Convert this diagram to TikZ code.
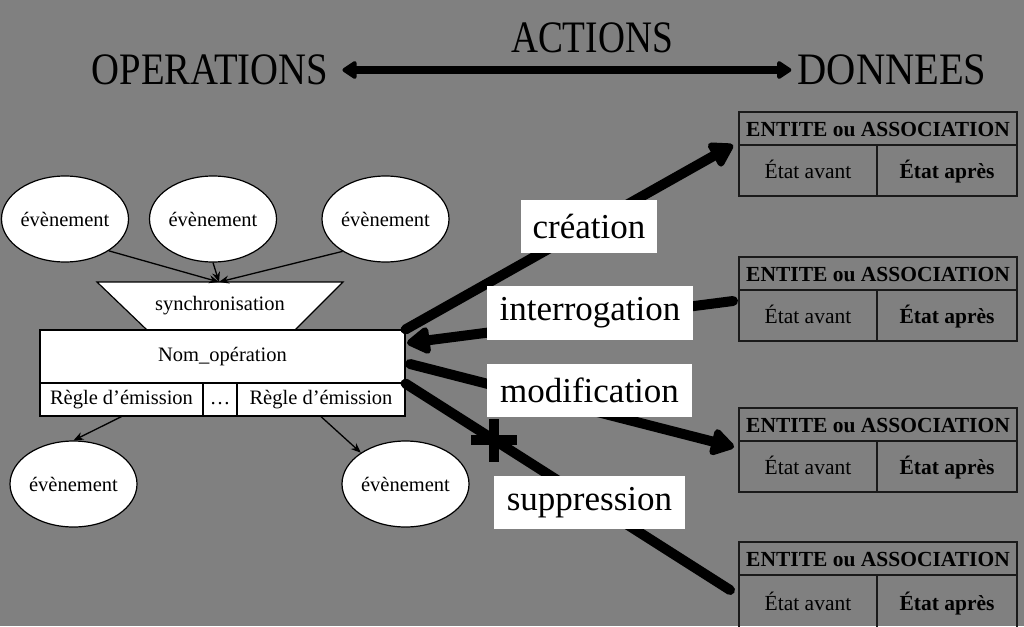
\documentclass[tikz,border=0pt]{standalone}
\usepackage{fontspec}
\setmainfont{Liberation Serif}
\usetikzlibrary{arrows.meta,shapes.geometric}
\definecolor{bgc}{RGB}{128,128,128}
\newcommand\condense[2]{\scalebox{#1}[1]{#2}}
\begin{document}
\begin{tikzpicture}[x=1pt,y=-1pt,
  ev/.style={ellipse,draw,fill=white,line width=1.2pt,minimum width=127pt,minimum height=86pt,inner sep=0pt,font=\fontsize{20.5}{24}\selectfont},
  titletext/.style={inner sep=0pt,font=\fontsize{45}{50}\selectfont},
  cell/.style={draw,fill=white,line width=1.2pt,inner sep=0pt,text height=14pt,text depth=5pt,font=\fontsize{20.5}{24}\selectfont},
  gcell/.style={draw=black!90,line width=1.2pt,inner sep=0pt,text height=17pt,text depth=2pt,font=\fontsize{21.5}{25}\selectfont},
  lbl/.style={fill=white,inner sep=0pt,font=\fontsize{35}{40}\selectfont},
  fatline/.style={line width=10pt,line cap=round},
  fatarrow/.style={fatline,-{Triangle[length=26pt,width=30pt,round]}},
  evarrow/.style={line width=1.3pt,-{Stealth[length=10pt,width=8pt]}}]
\fill[bgc] (0,0) rectangle (1024,626);
\useasboundingbox (0,0) rectangle (1024,626);

% titles
\node[titletext] (op) at (210,70) {\condense{0.86}{OPERATIONS}};
\node[titletext] (act) at (592,38) {\condense{0.83}{ACTIONS}};
\node[titletext] (don) at (892,70) {\condense{0.9}{DONNEES}};
\draw[line width=8pt,{Triangle[length=16pt,width=20pt,round]}-{Triangle[length=16pt,width=20pt,round]},shorten <=14pt,shorten >=6pt] (op.east) -- (don.west);

% events top
\node[ev] (e1) at (65,219) {évènement};
\node[ev] (e2) at (213,219) {évènement};
\node[ev] (e3) at (385.5,219) {évènement};

% synchronisation
\draw[fill=white,line width=1.2pt] (97,282) -- (343,282) -- (295,330) -- (147,330) -- cycle;
\node[inner sep=0pt,font=\fontsize{20.5}{24}\selectfont] (sync) at (220,306) {synchronisation};
\coordinate (synctop) at (219,282);

\draw[evarrow] (e1.-36) -- (synctop);
\draw[evarrow] (e2.south) -- (synctop);
\draw[evarrow] (e3.-143) -- (synctop);

% operation box
\node[cell,minimum width=365pt,minimum height=53pt] (nom) at (222.5,356.5) {Nom\_opération};
\node[cell,minimum width=163pt,minimum height=33pt] (r1) at (121.5,399.5) {Règle d’émission};
\node[cell,minimum width=34pt,minimum height=33pt] (r2) at (220,399.5) {…};
\node[cell,minimum width=168pt,minimum height=33pt] (r3) at (321,399.5) {Règle d’émission};

% events bottom
\node[ev] (e4) at (73.5,484) {évènement};
\node[ev] (e5) at (405.5,484) {évènement};
\draw[evarrow] (r1.south) -- (e4.north);
\draw[evarrow] (r3.south) -- (e5.145);

% data boxes
\foreach \i/\y/\bh in {1/112/51,2/257/51,3/408/51,4/542/56}{
  \node[gcell,minimum width=278pt,minimum height=33pt,font=\fontsize{21.5}{25}\selectfont\bfseries] (h\i) at (878,\y+16.5) {ENTITE ou ASSOCIATION};
  \node[gcell,minimum width=138pt,minimum height=\bh pt] (a\i) at (808,\y+33+\bh/2) {État avant};
  \node[gcell,minimum width=140pt,minimum height=\bh pt,font=\fontsize{21.5}{25}\selectfont\bfseries] (b\i) at (947,\y+33+\bh/2) {État après};
}

% action connectors
\coordinate (cEnd) at (733,145);
\coordinate (iStart) at (733,301);
\coordinate (iEnd) at (407,343);
\coordinate (mStart) at (410,364);
\coordinate (mEnd) at (734,447);
\coordinate (sEnd) at (730,590);
\draw[fatarrow] (nom.north east) -- (cEnd);
\draw[fatarrow] (iStart) -- (iEnd);
\draw[fatarrow] (mStart) -- (mEnd);
\draw[fatline] (nom.south east) -- (sEnd);
\draw[line width=10pt] (471,440) -- (517,440);
\draw[line width=10pt] (494,419) -- (494,462);

% labels
\node[lbl,minimum width=136pt,minimum height=53pt] (lc) at (589,226.5) {création};
\node[lbl,minimum width=206pt,minimum height=54pt] (li) at (590,313) {interrogation};
\node[lbl,minimum width=205pt,minimum height=53pt] (lm) at (589.5,390.5) {modification};
\node[lbl,minimum width=191pt,minimum height=53pt] (ls) at (589.5,502.5) {suppression};
\end{tikzpicture}
\end{document}
